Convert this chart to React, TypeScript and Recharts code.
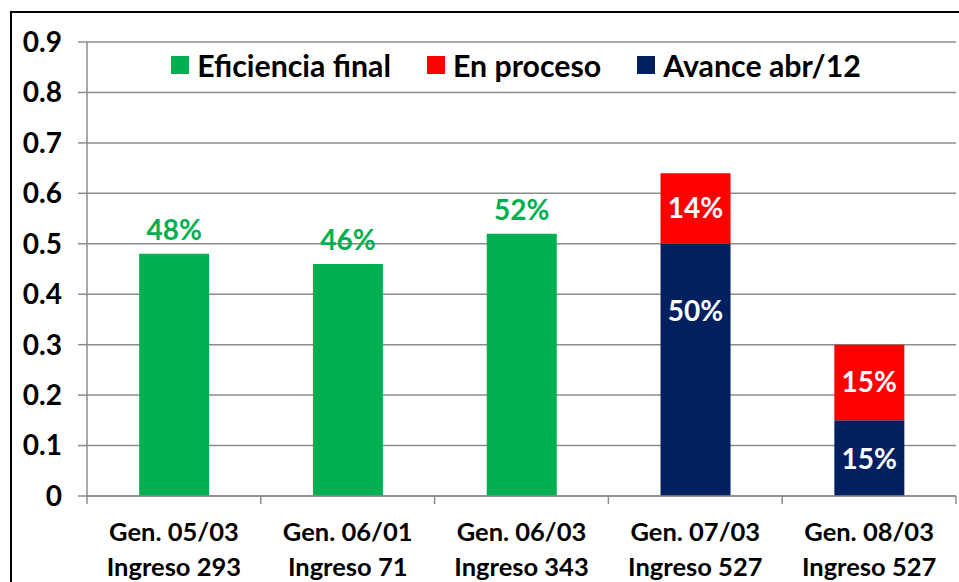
import React from "react";
import { BarChart, Bar, XAxis, YAxis, CartesianGrid, Legend, LabelList } from "recharts";

const generations = ["Gen. 05/03", "Gen. 06/01", "Gen. 06/03", "Gen. 07/03", "Gen. 08/03"];
const ingresos = ["Ingreso 293", "Ingreso 71", "Ingreso 343", "Ingreso 527", "Ingreso 527"];
const eficienciaFinal = [0.48, 0.46, 0.52, null, null];
const avanceAbr12 = [null, null, null, 0.5, 0.15];
const enProceso = [null, null, null, 0.14, 0.15];
const yTicks = [0, 0.1, 0.2, 0.3, 0.4, 0.5, 0.6, 0.7, 0.8, 0.9];

const legendItems = [
  { name: "Eficiencia final", color: "#00B050" },
  { name: "En proceso", color: "#FF0000" },
  { name: "Avance abr/12", color: "#002060" },
];

const data = generations.map((g, i) => ({
  gen: g,
  ingreso: ingresos[i],
  eficiencia: eficienciaFinal[i],
  avance: avanceAbr12[i],
  proceso: enProceso[i],
}));

const FONT = "Lato, 'Open Sans', sans-serif";
const W = 959;
const H = 582;
const PLOT_LEFT = 87;
const PLOT_RIGHT = 956;
const BAND = (PLOT_RIGHT - PLOT_LEFT) / generations.length;

const pct = (v: any) => (v == null ? "" : `${Math.round(v * 100)}%`);

const XTick = (props: any) => {
  const { x, y, payload, index } = props;
  const i = index ?? generations.indexOf(payload.value);
  const left = x - BAND / 2;
  return (
    <g>
      <line x1={left} y1={y - 8} x2={left} y2={y} stroke="#8c8c8c" strokeWidth={1.5} />
      {i === generations.length - 1 && (
        <line x1={x + BAND / 2} y1={y - 8} x2={x + BAND / 2} y2={y} stroke="#8c8c8c" strokeWidth={1.5} />
      )}
      <text x={x} y={y + 37} textAnchor="middle" fontFamily={FONT} fontWeight="bold" fontSize={25.5} fill="#000">
        {payload.value}
      </text>
      <text x={x} y={y + 72} textAnchor="middle" fontFamily={FONT} fontWeight="bold" fontSize={25.5} fill="#000">
        {ingresos[i]}
      </text>
    </g>
  );
};

const AvanceLabel = (props: any) => {
  const { x, y, width, height, value } = props;
  if (value == null) return null;
  const cy = y + Math.min(height / 2, 66);
  return (
    <text x={x + width / 2} y={cy} textAnchor="middle" dominantBaseline="central" fill="#fff" fontFamily={FONT} fontWeight="bold" fontSize={28}>
      {pct(value)}
    </text>
  );
};

const LegendContent = () => (
  <div style={{ display: "flex", justifyContent: "center", alignItems: "center", fontFamily: FONT, fontWeight: "bold", fontSize: 30.3, color: "#000" }}>
    {legendItems.map((it, i) => (
      <div key={it.name} style={{ display: "flex", alignItems: "center", marginLeft: i === 0 ? 0 : 36 }}>
        <span style={{ display: "inline-block", width: 18, height: 18, background: it.color, marginRight: 8 }} />
        <span>{it.name}</span>
      </div>
    ))}
  </div>
);

export default function App() {
  return (
    <div style={{ position: "absolute", left: 0, top: 0, width: W, height: H, overflow: "hidden", background: "#fff" }}>
      <div style={{ position: "absolute", left: 10, top: 11, width: 1000, height: 700, borderLeft: "2px solid #000", borderTop: "2px solid #000" }} />
      <div style={{ position: "absolute", left: 0, top: 0 }}>
        <BarChart width={W} height={H} data={data} margin={{ top: 42, right: W - PLOT_RIGHT, left: 0, bottom: 0 }} barCategoryGap="30%">
          <CartesianGrid horizontal vertical={false} stroke="#8c8c8c" strokeWidth={1.5} />
          <XAxis
            dataKey="gen"
            height={86}
            axisLine={{ stroke: "#8c8c8c", strokeWidth: 1.5 }}
            tickLine={false}
            tick={<XTick />}
            interval={0}
          />
          <YAxis
            width={PLOT_LEFT}
            domain={[0, 0.9]}
            ticks={yTicks}
            interval={0}
            axisLine={{ stroke: "#8c8c8c", strokeWidth: 1.5 }}
            tickLine={{ stroke: "#8c8c8c", strokeWidth: 1.5 }}
            tickSize={9}
            tickMargin={16}
            tickFormatter={(v: number) => (v === 0 ? "0" : v.toFixed(1))}
            tick={{ fontFamily: FONT, fontWeight: "bold", fontSize: 28, fill: "#000" }}
          />
          <Legend
            layout="vertical"
            align="center"
            verticalAlign="middle"
            content={<LegendContent />}
            wrapperStyle={{ position: "absolute", top: 47, left: 66, width: 900 }}
          />
          <Bar dataKey="eficiencia" name="Eficiencia final" stackId="a" fill="#00B050" isAnimationActive={false}>
            <LabelList dataKey="eficiencia" position="top" offset={14} formatter={pct} fill="#00B050" fontFamily={FONT} fontWeight="bold" fontSize={28} />
          </Bar>
          <Bar dataKey="avance" name="Avance abr/12" stackId="a" fill="#002060" isAnimationActive={false}>
            <LabelList dataKey="avance" content={<AvanceLabel />} />
          </Bar>
          <Bar dataKey="proceso" name="En proceso" stackId="a" fill="#FF0000" isAnimationActive={false}>
            <LabelList dataKey="proceso" position="center" formatter={pct} fill="#fff" fontFamily={FONT} fontWeight="bold" fontSize={28} />
          </Bar>
        </BarChart>
      </div>
    </div>
  );
}
